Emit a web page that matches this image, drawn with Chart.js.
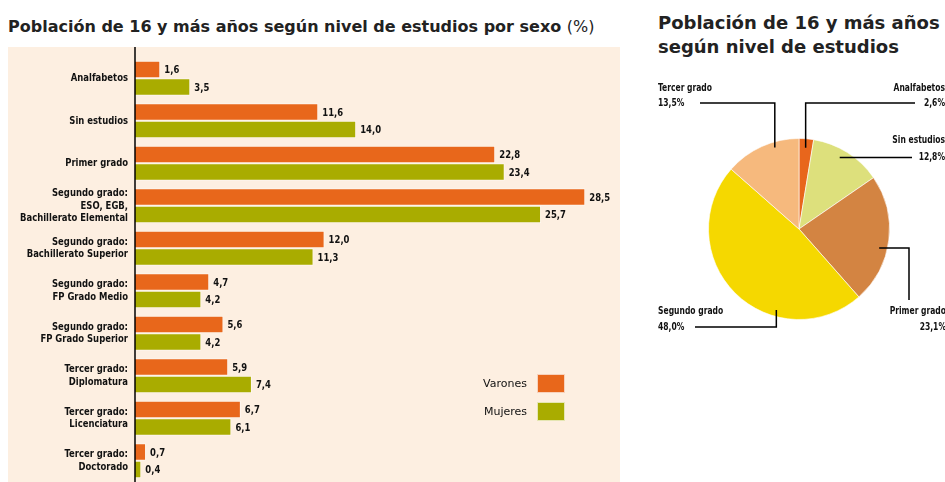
<!DOCTYPE html>
<html>
<head>
<meta charset="utf-8">
<script src="https://cdn.jsdelivr.net/npm/chart.js@4/dist/chart.umd.min.js"></script>
<style>
  body { margin: 0; background: #fff; width: 945px; height: 482px; overflow: hidden; position: relative; }
  #barTitle { position: absolute; left: 8px; top: 17px; font: bold 16px 'DejaVu Sans', sans-serif; color: #222; white-space: nowrap; }
  #barTitle span { font-weight: normal; }
  #pieTitle { position: absolute; left: 658px; top: 11px; font: bold 18px 'DejaVu Sans', sans-serif; line-height: 24px; color: #222; white-space: nowrap; }
  #barBox { position: absolute; left: 8px; top: 47px; width: 612px; height: 435px; background: #fdefe1; }
  #pieBox { position: absolute; left: 640px; top: 60px; width: 305px; height: 422px; }
</style>
</head>
<body>
<div id="barTitle">Población de 16 y más años según nivel de estudios por sexo <span>(%)</span></div>
<div id="pieTitle">Población de 16 y más años<br>según nivel de estudios</div>
<div id="barBox"><canvas id="barChart"></canvas></div>
<div id="pieBox"><canvas id="pieChart"></canvas></div>
<script>
// ---- data ----
var categories = [
  'Analfabetos',
  'Sin estudios',
  'Primer grado',
  ['Segundo grado:', 'ESO, EGB,', 'Bachillerato Elemental'],
  ['Segundo grado:', 'Bachillerato Superior'],
  ['Segundo grado:', 'FP Grado Medio'],
  ['Segundo grado:', 'FP Grado Superior'],
  ['Tercer grado:', 'Diplomatura'],
  ['Tercer grado:', 'Licenciatura'],
  ['Tercer grado:', 'Doctorado']
];
var varones = [1.6, 11.6, 22.8, 28.5, 12.0, 4.7, 5.6, 5.9, 6.7, 0.7];
var mujeres = [3.5, 14.0, 23.4, 25.7, 11.3, 4.2, 4.2, 7.4, 6.1, 0.4];

var pieLabels = ['Analfabetos', 'Sin estudios', 'Primer grado', 'Segundo grado', 'Tercer grado'];
var pieValues = [2.6, 12.8, 23.1, 48.0, 13.5];

var narrow = "'DejaVu Sans Condensed', 'DejaVu Sans', sans-serif";
var orange = '#e8671b';
var olive = '#a9ac00';

function fmt(v) { return v.toFixed(1).replace('.', ','); }

// the original uses a very condensed face, so squeeze the text horizontally
function squeezed(c, text, x, y, align, sx) {
  c.save();
  c.translate(x, y);
  c.scale(sx, 1);
  c.textAlign = align;
  c.fillText(text, 0, 0);
  c.restore();
}

// category labels, value labels, axis line and legend for the bar chart
var barExtras = {
  id: 'barExtras',
  afterDatasetsDraw: function (chart) {
    var c = chart.ctx;
    var yScale = chart.scales.y;
    var left = chart.chartArea.left;
    c.save();
    c.fillStyle = '#111';
    c.textBaseline = 'middle';
    c.font = 'bold 11px ' + narrow;
    var sx = 108 / c.measureText('Bachillerato Elemental').width;

    chart.data.labels.forEach(function (lab, i) {
      var lines = Array.isArray(lab) ? lab : [lab];
      var cy = yScale.getPixelForValue(i);
      var y0 = cy - (lines.length - 1) * 12.5 / 2;
      lines.forEach(function (t, k) {
        squeezed(c, t, left - 7, y0 + k * 12.5, 'right', sx);
      });
    });

    chart.data.datasets.forEach(function (ds, i) {
      chart.getDatasetMeta(i).data.forEach(function (bar, j) {
        squeezed(c, fmt(ds.data[j]), bar.x + 4, bar.y + 1, 'left', sx);
      });
    });

    // axis line
    c.strokeStyle = '#000';
    c.lineWidth = 1.5;
    c.beginPath();
    c.moveTo(left, 0);
    c.lineTo(left, chart.height);
    c.stroke();

    // legend
    var lx = 529, ly = 327;
    c.font = "11px 'DejaVu Sans', sans-serif";
    chart.data.datasets.forEach(function (ds, i) {
      var y = ly + i * 28;
      c.fillStyle = ds.backgroundColor;
      c.fillRect(lx, y, 28, 19);
      c.strokeStyle = 'rgba(255,255,255,0.7)';
      c.lineWidth = 1;
      c.strokeRect(lx + 0.5, y + 0.5, 27, 18);
      c.fillStyle = '#111';
      c.textAlign = 'right';
      c.fillText(ds.label, lx - 10, y + 10);
    });
    c.restore();
  }
};

new Chart(document.getElementById('barChart'), {
  type: 'bar',
  data: {
    labels: categories,
    datasets: [
      { label: 'Varones', data: varones, backgroundColor: orange, borderColor: 'rgba(255,255,255,0.5)', borderWidth: 1 },
      { label: 'Mujeres', data: mujeres, backgroundColor: olive, borderColor: 'rgba(255,255,255,0.5)', borderWidth: 1 }
    ]
  },
  options: {
    indexAxis: 'y',
    responsive: true,
    maintainAspectRatio: false,
    animation: false,
    categoryPercentage: 0.82,
    barPercentage: 1,
    layout: { padding: { top: 10, right: 11, bottom: 0, left: 0 } },
    plugins: { legend: { display: false }, tooltip: { enabled: false } },
    scales: {
      x: { display: false, min: 0, max: 30 },
      y: {
        afterFit: function (s) { s.width = 127; },
        grid: { display: false },
        border: { display: false },
        ticks: { display: false }
      }
    }
  },
  plugins: [barExtras]
});

// leader lines and labels for the pie
var pieLayout = [
  { side: 'right', tx: 305, ty: [28, 43], mode: 'vh', lineY: 43, endX: 275, r: 0.9, pos: 0.5 },
  { side: 'right', tx: 305, ty: [80, 97], mode: 'h', endX: 272, r: 0.91, pos: 0.44 },
  { side: 'right', tx: 306, ty: [251, 267], mode: 'hv', lineX: 269, endY: 240, r: 0.91, pos: 0.575 },
  { side: 'left', tx: 18, ty: [251, 267], mode: 'vh', lineY: 267, endX: 55, r: 0.93, pos: 0.33 },
  { side: 'left', tx: 18, ty: [28, 43], mode: 'vh', lineY: 43, endX: 60, r: 0.94, pos: 0.66 }
];

var pieExtras = {
  id: 'pieExtras',
  afterDatasetsDraw: function (chart) {
    var c = chart.ctx;
    c.save();
    c.strokeStyle = '#000';
    c.lineWidth = 1.5;
    c.fillStyle = '#111';
    c.font = 'bold 10px ' + narrow;
    c.textBaseline = 'middle';
    var sx = 54 / c.measureText('Tercer grado').width;
    chart.getDatasetMeta(0).data.forEach(function (arc, i) {
      var L = pieLayout[i];
      var a = arc.startAngle + (arc.endAngle - arc.startAngle) * L.pos;
      var px = arc.x + Math.cos(a) * arc.outerRadius * L.r;
      var py = arc.y + Math.sin(a) * arc.outerRadius * L.r;
      c.beginPath();
      c.moveTo(px, py);
      if (L.mode === 'vh') { c.lineTo(px, L.lineY); c.lineTo(L.endX, L.lineY); }
      else if (L.mode === 'h') { c.lineTo(L.endX, py); }
      else { c.lineTo(L.lineX, py); c.lineTo(L.lineX, L.endY); }
      c.stroke();
      var al = L.side === 'right' ? 'right' : 'left';
      squeezed(c, pieLabels[i], L.tx, L.ty[0], al, sx);
      squeezed(c, fmt(pieValues[i]) + '%', L.tx, L.ty[1], al, sx);
    });
    c.restore();
  }
};

new Chart(document.getElementById('pieChart'), {
  type: 'pie',
  data: {
    labels: pieLabels,
    datasets: [{
      data: pieValues,
      backgroundColor: ['#e8661c', '#dde07c', '#d38442', '#f5d800', '#f6b97d'],
      borderColor: 'rgba(255,255,255,0.6)',
      borderWidth: 1
    }]
  },
  options: {
    responsive: true,
    maintainAspectRatio: false,
    animation: false,
    layout: { padding: { left: 68, right: 55, top: 76, bottom: 160 } },
    plugins: { legend: { display: false }, tooltip: { enabled: false } }
  },
  plugins: [pieExtras]
});
</script>
</body>
</html>
